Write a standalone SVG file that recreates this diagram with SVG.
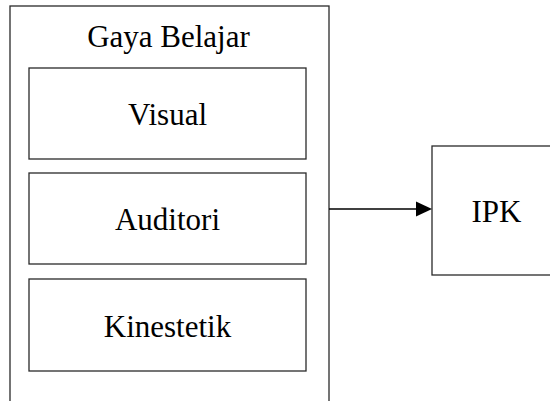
<svg xmlns="http://www.w3.org/2000/svg" width="550" height="401" viewBox="0 0 550 401">
<rect width="550" height="401" fill="#fff"/>
<g id="gaya-belajar">
<rect x="10" y="6" width="319" height="410" fill="#fff" stroke="#2a2a2a" stroke-width="1.3"/>
<text x="168.5" y="47" font-family="Liberation Serif" font-size="31" text-anchor="middle">Gaya Belajar</text>
</g>
<g id="visual">
<rect x="29" y="68" width="277" height="91" fill="#fff" stroke="#2a2a2a" stroke-width="1.3"/>
<text x="167.5" y="125" font-family="Liberation Serif" font-size="31" text-anchor="middle">Visual</text>
</g>
<g id="auditori">
<rect x="29" y="173" width="277" height="91" fill="#fff" stroke="#2a2a2a" stroke-width="1.3"/>
<text x="167.5" y="230" font-family="Liberation Serif" font-size="31" text-anchor="middle">Auditori</text>
</g>
<g id="kinestetik">
<rect x="29" y="279" width="277" height="92" fill="#fff" stroke="#2a2a2a" stroke-width="1.3"/>
<text x="167.5" y="337" font-family="Liberation Serif" font-size="31" text-anchor="middle">Kinestetik</text>
</g>
<g id="ipk">
<rect x="432" y="146" width="130" height="129" fill="#fff" stroke="#2a2a2a" stroke-width="1.3"/>
<text x="496.5" y="222" font-family="Liberation Serif" font-size="31" text-anchor="middle">IPK</text>
</g>
<g id="connectors">
<line x1="329" y1="209" x2="417" y2="209" stroke="#000" stroke-width="1.3"/>
<path d="M416,201.5 L432,209 L416,216.5 z" fill="#000"/>
</g>
</svg>
